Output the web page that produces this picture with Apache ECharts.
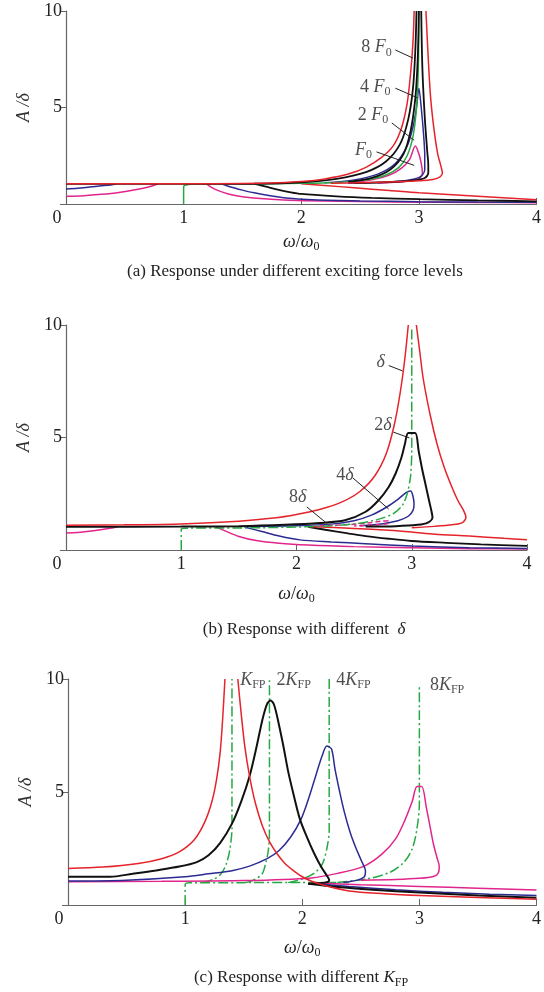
<!DOCTYPE html>
<html><head><meta charset="utf-8">
<script src="https://cdn.jsdelivr.net/npm/echarts/dist/echarts.min.js"></script>
<style>html,body{margin:0;padding:0;background:#fff}#c{width:544px;height:992px}</style>
</head><body><div id="c"></div>
<script>
// ---------- axis ticks ----------
const xTicks = [0, 1, 2, 3, 4];
const yTicks = [0, 5, 10];

// ---------- panel (a): different exciting force levels ----------
const aMagLeft = [[0,0.4],[0.15,0.43],[0.3,0.5],[0.45,0.6],[0.6,0.75],[0.7,0.88],[0.78,1.04]];
const aBlueLeft = [[0,0.78],[0.1,0.82],[0.2,0.88],[0.3,0.94],[0.38,0.99],[0.43,1.04]];
const aMagLow = [[1.19,1.05],[1.24,0.85],[1.3,0.68],[1.38,0.52],[1.5,0.38],[1.65,0.28],[1.85,0.21],[2.2,0.15],[2.8,0.11],[3.5,0.08],[4.0,0.07]];
const aBlueLow = [[1.32,1.05],[1.4,0.88],[1.5,0.72],[1.6,0.58],[1.75,0.42],[1.9,0.3],[2.1,0.22],[2.5,0.16],[3.0,0.12],[3.5,0.1],[4.0,0.09]];
const aBlkLow = [[1.6,1.05],[1.7,0.9],[1.8,0.75],[1.9,0.62],[2.0,0.52],[2.3,0.4],[2.6,0.32],[3.0,0.25],[3.5,0.19],[4.0,0.14]];
const aRedLow = [[2.0,1.05],[2.2,0.96],[2.45,0.84],[2.75,0.7],[3.0,0.58],[3.5,0.4],[4.0,0.22]];
const aMag = [[2.4,1.1],[2.6,1.25],[2.75,1.5],[2.85,1.85],[2.92,2.3],[2.97,3.0],[3.0,2.6],[3.02,2.1],[3.03,1.6],[3.0,1.3],[2.88,1.17],[2.65,1.09]];
const aBlue = [[2.2,1.1],[2.45,1.25],[2.65,1.55],[2.8,2.1],[2.9,3.0],[2.95,4.0],[2.98,5.0],[3.0,6.0],[3.02,5.0],[3.04,3.6],[3.05,2.5],[3.05,1.8],[3.02,1.45],[2.92,1.25],[2.7,1.13],[2.4,1.07]];
const aGreen = [[1,0],[1,0.9],[1.03,1.0],[1.1,1.03],[1.5,1.04],[2.0,1.07],[2.3,1.12],[2.55,1.25],[2.72,1.5],[2.83,1.9],[2.9,2.5],[2.95,3.5],[2.98,5],[2.995,7],[3.0,10]];
const aBlkUp = [[0,1.04],[1,1.04],[1.6,1.05],[2.0,1.12],[2.3,1.3],[2.55,1.65],[2.72,2.2],[2.84,3.1],[2.91,4.4],[2.95,6.0],[2.97,8.0],[2.98,10]];
const aBlkInner = [[2.4,1.15],[2.6,1.35],[2.76,1.8],[2.87,2.6],[2.93,3.8],[2.97,5.5],[2.99,7.5],[3.0,10]];
const aBlkDown = [[3.02,10],[3.03,7],[3.05,4.5],[3.07,2.8],[3.08,2.0],[3.08,1.6],[3.05,1.35],[2.95,1.22],[2.75,1.13],[2.45,1.08]];
const aRedUp = [[0,1.05],[0.5,1.05],[1,1.05],[1.5,1.06],[1.8,1.1],[2.0,1.16],[2.2,1.3],[2.4,1.55],[2.55,1.9],[2.68,2.4],[2.78,3.0],[2.85,3.9],[2.9,5.2],[2.93,6.8],[2.95,8.4],[2.96,10]];
const aRedDown = [[3.06,10],[3.08,7.5],[3.1,5.5],[3.13,3.8],[3.16,2.6],[3.19,1.9],[3.2,1.6],[3.18,1.4],[3.12,1.27],[3.0,1.2],[2.8,1.15],[2.5,1.1],[2.25,1.07]];
const aLabelText = ['8 {i|F}{s|0}', '4 {i|F}{s|0}', '2 {i|F}{s|0}', '{i|F}{s|0}'];
const aLabelPos = [[2.64,8.1],[2.63,6.06],[2.61,4.61],[2.53,2.8]];
const aLeaders = [[[2.80,7.98],[2.95,7.56]],[[2.80,6.0],[2.99,5.5]],[[2.77,4.2],[2.96,3.3]],[[2.64,2.7],[2.96,2.0]]];

// ---------- panel (b): different delta ----------
const bMagLeft = [[0,0.76],[0.1,0.78],[0.2,0.83],[0.3,0.9],[0.4,0.98],[0.45,1.03]];
const bMagLow = [[1.3,1.03],[1.38,0.85],[1.5,0.6],[1.65,0.42],[1.85,0.3],[2.1,0.22],[2.5,0.15],[3.0,0.1],[3.5,0.06],[4.0,0.04]];
const bBlueLow = [[1.55,1.02],[1.7,0.82],[1.85,0.62],[2.03,0.45],[2.3,0.36],[2.6,0.28],[3.0,0.18],[3.5,0.1],[4.0,0.07]];
const bBlkLow = [[2.1,1.03],[2.25,0.9],[2.42,0.76],[2.6,0.62],[2.8,0.5],[3.0,0.4],[3.3,0.32],[3.6,0.25],[4.0,0.18]];
const bRedLow = [[2.1,1.04],[2.5,0.96],[2.8,0.88],[3.0,0.8],[3.2,0.7],[3.5,0.62],[3.8,0.52],[4.0,0.46]];
const bMagUp = [[2.2,1.08],[2.45,1.13],[2.62,1.2],[2.74,1.28],[2.8,1.3],[2.8,1.2],[2.7,1.12],[2.5,1.07]];
const bBlue = [[1.6,1.05],[2.0,1.08],[2.3,1.15],[2.5,1.3],[2.65,1.55],[2.78,1.9],[2.88,2.25],[2.95,2.55],[2.99,2.62],[3.01,2.4],[3.02,2.05],[3.01,1.75],[2.97,1.5],[2.88,1.3],[2.75,1.17],[2.55,1.08]];
const bGreen = [[1,0],[1,0.92],[1.03,0.97],[1.5,0.98],[2.0,1.02],[2.3,1.08],[2.5,1.16],[2.7,1.35],[2.84,1.62],[2.92,2.0],[2.96,2.5],[2.99,3.3],[3.0,4.5],[3.0,9.8]];
const bBlk = [[0,1.03],[1,1.04],[1.5,1.06],[1.9,1.12],[2.2,1.2],[2.42,1.32],[2.6,1.7],[2.71,2.2],[2.8,2.8],[2.86,3.4],[2.91,4.1],[2.94,4.7],[2.97,5.2],[3.03,5.2],[3.06,4.4],[3.09,3.6],[3.12,2.9],[3.15,2.2],[3.17,1.75],[3.18,1.45],[3.14,1.22],[3.05,1.12],[2.86,1.06],[2.6,1.04]];
const bRedUp = [[0,1.1],[0.5,1.12],[1,1.16],[1.5,1.28],[1.8,1.42],[2.0,1.58],[2.2,1.8],[2.4,2.15],[2.55,2.6],[2.68,3.3],[2.78,4.3],[2.85,5.6],[2.9,7.0],[2.94,8.5],[2.97,10]];
const bRedDown = [[3.04,10],[3.07,8.8],[3.1,7.6],[3.16,6.0],[3.22,4.7],[3.28,3.7],[3.34,2.9],[3.4,2.2],[3.45,1.75],[3.47,1.45],[3.44,1.22],[3.35,1.12],[3.2,1.05],[3.0,0.99]];
const bLabelText = ['{i|δ}', '2{i|δ}', '4{i|δ}', '8{i|δ}'];
const bLabelPos = [[2.73,8.36],[2.75,5.56],[2.42,3.33],[2.01,2.36]];
const bLeaders = [[[2.80,8.2],[2.92,7.96]],[[2.84,5.24],[2.98,4.98]],[[2.49,3.2],[2.80,1.82]],[[2.09,1.91],[2.26,1.2]]];

// ---------- panel (c): different K_FP ----------
const cRedLeft = [[0,1.62],[0.3,1.68],[0.6,1.84],[0.8,2.05],[0.95,2.35],[1.08,2.9],[1.17,3.7],[1.23,4.6],[1.27,5.6],[1.3,6.8],[1.32,8.2],[1.34,10]];
const cRedRight = [[1.45,10],[1.48,8.4],[1.51,7.0],[1.55,5.7],[1.6,4.5],[1.66,3.5],[1.72,2.8],[1.78,2.3],[1.85,1.85],[1.93,1.5],[2.0,1.25],[2.08,1.05],[2.2,0.85],[2.4,0.62],[2.7,0.5],[3.0,0.42],[3.5,0.33],[4.0,0.25]];
const cBlk = [[0,1.25],[0.36,1.25],[0.55,1.38],[0.75,1.53],[0.95,1.7],[1.1,1.9],[1.2,2.2],[1.3,2.75],[1.4,3.6],[1.48,4.6],[1.55,5.7],[1.61,7.0],[1.66,8.2],[1.7,8.9],[1.73,9.05],[1.76,8.85],[1.8,8.0],[1.84,7.0],[1.88,5.9],[1.93,4.8],[1.98,3.8],[2.04,3.0],[2.1,2.3],[2.16,1.7],[2.21,1.3],[2.23,1.1],[2.2,1.0],[2.12,0.96],[2.05,0.94]];
const cBlkLow = [[2.05,0.94],[2.3,0.8],[2.6,0.68],[3.0,0.55],[3.5,0.42],[4.0,0.32]];
const cBlue = [[0,1.06],[0.5,1.1],[1.0,1.25],[1.2,1.38],[1.4,1.52],[1.55,1.72],[1.7,2.05],[1.8,2.4],[1.9,3.0],[1.99,3.8],[2.06,4.8],[2.12,5.8],[2.17,6.6],[2.21,7.03],[2.25,6.9],[2.28,6.0],[2.32,5.0],[2.36,4.1],[2.41,3.2],[2.46,2.5],[2.51,1.9],[2.54,1.5],[2.53,1.25],[2.47,1.1],[2.35,1.0]];
const cBlueLow = [[2.1,0.95],[2.4,0.82],[2.8,0.67],[3.2,0.56],[3.6,0.48],[4.0,0.42]];
const cMag = [[0,1.03],[0.8,1.05],[1.5,1.08],[2.08,1.2],[2.3,1.4],[2.52,1.7],[2.68,2.25],[2.8,2.95],[2.88,3.8],[2.94,4.6],[2.98,5.24],[3.02,5.24],[3.06,4.3],[3.09,3.5],[3.12,2.7],[3.15,2.1],[3.17,1.7],[3.16,1.4],[3.12,1.26],[3.0,1.18],[2.8,1.13],[2.5,1.1]];
const cMagLow = [[2.1,0.98],[2.5,0.9],[3.0,0.82],[3.5,0.74],[4.0,0.66]];
const cGreenBase = [[1,0],[1,0.9],[1.04,0.98],[1.5,0.99],[2.0,1.0],[2.4,1.0]];
const cGreen1 = [[1.15,0.99],[1.25,1.15],[1.31,1.4],[1.35,1.8],[1.38,2.4],[1.4,3.4],[1.4,10]];
const cGreen2 = [[1.52,0.99],[1.6,1.15],[1.66,1.4],[1.69,1.9],[1.71,2.4],[1.72,3.2],[1.72,10]];
const cGreen3 = [[1.88,0.99],[2.0,1.15],[2.1,1.4],[2.17,1.8],[2.21,2.5],[2.23,3.3],[2.23,10]];
const cGreen4 = [[2.3,1.0],[2.55,1.15],[2.75,1.45],[2.87,1.9],[2.94,2.5],[2.98,3.4],[3.0,4.5],[3.0,9.7]];
const cLabelText = ['{i|K}{s|FP}', '2{i|K}{s|FP}', '4{i|K}{s|FP}', '8{i|K}{s|FP}'];
const cLabelPos = [[1.47,9.96],[1.78,9.96],[2.29,9.96],[3.09,9.73]];

// ---------- captions ----------
const captions = [
  '(a) Response under different exciting force levels',
  '(b) Response with different  {i|δ}',
  '(c) Response with different {i|K}{s|FP}'
];

// ================= build =================
const FONT = 'Liberation Serif';
const C = {red:'#e5232b', blk:'#111111', blue:'#2b2b92', mag:'#e2258c', green:'#27a844'};
const DASHDOT = [10,3,2,3];
const richStyle = {
  i:{fontStyle:'italic', fontFamily:FONT, fontSize:18, lineHeight:22, color:'#222'},
  s:{fontFamily:FONT, fontSize:12, lineHeight:12, verticalAlign:'bottom', color:'#222'}
};

const series = [];
function addLine(g, data, color, width, dash) {
  series.push({type:'line', xAxisIndex:g, yAxisIndex:g, data:data, symbol:'none', smooth:0.3,
    silent:true, lineStyle:{color:color, width:width, type: dash || 'solid'}, z:2});
}
function addLabels(g, texts, pos, align) {
  series.push({type:'scatter', xAxisIndex:g, yAxisIndex:g, symbolSize:0, silent:true, z:5,
    data: pos.map((p,k)=>({value:p, label:{formatter:texts[k]}})),
    label:{show:true, position:'inside', align:align||'center', verticalAlign:'middle',
      fontFamily:FONT, fontSize:18, lineHeight:22, color:'#222', rich:richStyle}});
}
function addLeaders(g, leaders) {
  leaders.forEach(l => series.push({type:'line', xAxisIndex:g, yAxisIndex:g, data:l, symbol:'none',
    silent:true, lineStyle:{color:'#222', width:1}, z:4}));
}

// panel a
[[aMagLeft,C.mag],[aBlueLeft,C.blue],[aMagLow,C.mag],[aBlueLow,C.blue],[aBlkLow,C.blk],[aRedLow,C.red],
 [aMag,C.mag],[aBlue,C.blue],[aGreen,C.green],[aBlkUp,C.blk],[aBlkInner,C.blk],[aBlkDown,C.blk],
 [aRedUp,C.red],[aRedDown,C.red]].forEach(([d,c]) => addLine(0, d, c, c===C.blk?1.8:1.5));
addLeaders(0, aLeaders);
addLabels(0, aLabelText, aLabelPos);

// panel b
[[bMagLeft,C.mag],[bMagLow,C.mag],[bBlueLow,C.blue],[bBlkLow,C.blk],[bRedLow,C.red],[bBlue,C.blue]]
 .forEach(([d,c]) => addLine(1, d, c, c===C.blk?1.8:1.5));
addLine(1, bMagUp, C.mag, 1.5, [5,3]);
addLine(1, bGreen, C.green, 1.5, DASHDOT);
addLine(1, bBlk, C.blk, 2);
addLine(1, bRedUp, C.red, 1.5);
addLine(1, bRedDown, C.red, 1.5);
addLeaders(1, bLeaders);
addLabels(1, bLabelText, bLabelPos);

// panel c
[cGreenBase,cGreen1,cGreen2,cGreen3,cGreen4].forEach(d => addLine(2, d, C.green, 1.5, DASHDOT));
[[cMagLow,C.mag],[cBlueLow,C.blue],[cBlkLow,C.blk],[cMag,C.mag],[cBlue,C.blue],[cBlk,C.blk],[cRedLeft,C.red],[cRedRight,C.red]]
 .forEach(([d,c]) => addLine(2, d, c, c===C.blk?2:1.5));
addLabels(2, cLabelText, cLabelPos, 'left');

const grids = [
  {left:66, top:11, width:471, height:193},
  {left:66, top:325, width:461, height:225},
  {left:68, top:679, width:469, height:226}
];
const xNameGap = [27, 33, 32];
const yNameGap = [27, 29, 29];

const axisLine = {show:true, lineStyle:{color:'#666', width:1.2}};
const xAxis = grids.map((g,k)=>({
  type:'value', gridIndex:k, min:xTicks[0], max:xTicks[xTicks.length-1], interval:1,
  axisLine:axisLine, axisTick:{show:true, inside:true, length:6, lineStyle:{color:'#666'}},
  splitLine:{show:false},
  axisLabel:{margin:5, fontFamily:FONT, fontSize:18, color:'#222',
    formatter: v => v===0 ? '{z|0}' : String(v),
    rich:{z:{fontFamily:FONT, fontSize:18, color:'#222', padding:[0,18,0,0]}}},
  name:'{i|ω}/{i|ω}{s|0}', nameLocation:'middle', nameGap:xNameGap[k],
  nameTextStyle:{fontFamily:FONT, fontSize:18, lineHeight:22, color:'#222', verticalAlign:'top', rich:richStyle}
}));
const yAxis = grids.map((g,k)=>({
  type:'value', gridIndex:k, min:yTicks[0], max:yTicks[yTicks.length-1], interval:5,
  axisLine:axisLine, axisTick:{show:true, inside:false, length:6, lineStyle:{color:'#666'}},
  splitLine:{show:false},
  axisLabel:{margin:4, fontFamily:FONT, fontSize:18, color:'#222', formatter: v => v===0 ? '' : String(v)},
  name:'A /δ', nameLocation:'middle', nameGap:yNameGap[k],
  nameTextStyle:{fontFamily:FONT, fontSize:18, fontStyle:'italic', color:'#333'}
}));

const capPos = [[295,272],[304,630],[301,978]];
const graphic = captions.map((t,k)=>({
  type:'text', x:capPos[k][0], y:capPos[k][1],
  style:{text:t, fontFamily:FONT, fontSize:17, lineHeight:22, fill:'#222', align:'center', verticalAlign:'middle',
    rich:{i:{fontStyle:'italic', fontFamily:FONT, fontSize:17, lineHeight:22, fill:'#222'},
          s:{fontFamily:FONT, fontSize:12, lineHeight:12, verticalAlign:'bottom', fill:'#222'}}}
}));

const chart = echarts.init(document.getElementById('c'), null, {renderer:'canvas'});
chart.setOption({
  animation:false, backgroundColor:'#ffffff',
  grid:grids, xAxis:xAxis, yAxis:yAxis, series:series, graphic:graphic
});
</script></body></html>
